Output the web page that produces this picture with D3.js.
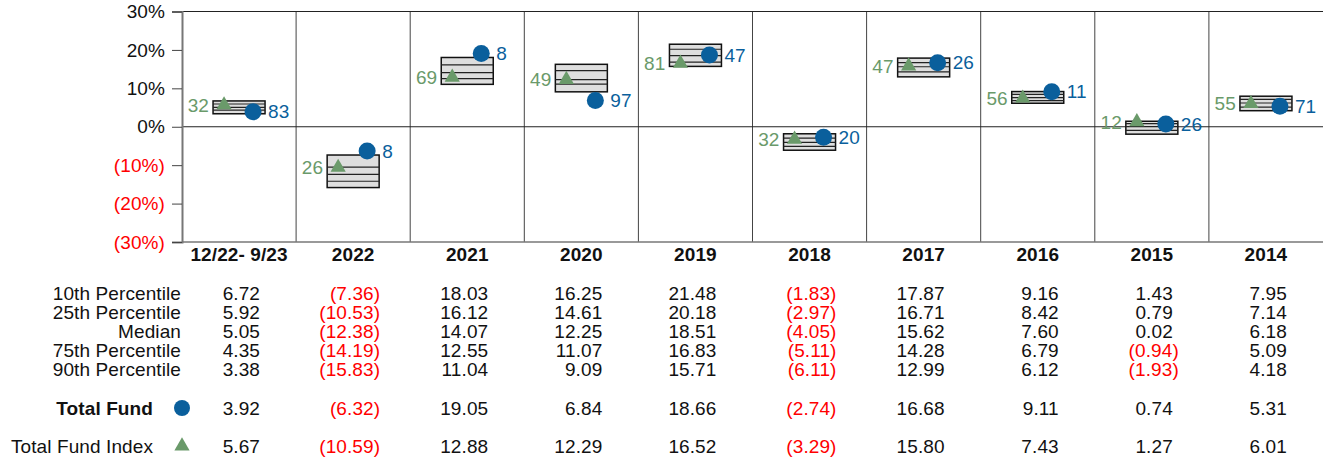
<!DOCTYPE html>
<html>
<head>
<meta charset="utf-8">
<script src="https://cdn.jsdelivr.net/npm/d3@7"></script>
<style>
body { margin: 0; background: #fff; }
text { font-family: "Liberation Sans", Arial, sans-serif; letter-spacing: 0.1px; }
</style>
</head>
<body>
<div id="chart"></div>
<script>
var periods = ["12/22- 9/23", "2022", "2021", "2020", "2019", "2018", "2017", "2016", "2015", "2014"];
var p10 = [6.72, -7.36, 18.03, 16.25, 21.48, -1.83, 17.87, 9.16, 1.43, 7.95];
var p25 = [5.92, -10.53, 16.12, 14.61, 20.18, -2.97, 16.71, 8.42, 0.79, 7.14];
var median = [5.05, -12.38, 14.07, 12.25, 18.51, -4.05, 15.62, 7.60, 0.02, 6.18];
var p75 = [4.35, -14.19, 12.55, 11.07, 16.83, -5.11, 14.28, 6.79, -0.94, 5.09];
var p90 = [3.38, -15.83, 11.04, 9.09, 15.71, -6.11, 12.99, 6.12, -1.93, 4.18];
var fund = [3.92, -6.32, 19.05, 6.84, 18.66, -2.74, 16.68, 9.11, 0.74, 5.31];
var fundRank = [83, 8, 8, 97, 47, 20, 26, 11, 26, 71];
var index = [5.67, -10.59, 12.88, 12.29, 16.52, -3.29, 15.80, 7.43, 1.27, 6.01];
var indexRank = [32, 26, 69, 49, 81, 32, 47, 56, 12, 55];
var yTicks = [30, 20, 10, 0, -10, -20, -30];
var rowLabels = ["10th Percentile", "25th Percentile", "Median", "75th Percentile", "90th Percentile"];

function drawChart() {
    var width = 1323, height = 460;
    var plotLeft = 182, plotRight = 1323, plotTop = 11.5, plotBottom = 242;
    var blue = "#0a5f9c", green = "#6a9a6a", red = "#ff0000";
    var fs = 19;

    var svg = d3.select("#chart").append("svg")
        .attr("width", width)
        .attr("height", height);

    var x = d3.scaleBand().domain(periods).range([plotLeft, plotRight]).padding(0);
    var y = d3.scaleLinear().domain([-30, 30]).range([plotBottom, plotTop]);
    var cx = function(p) { return x(p) + x.bandwidth() / 2; };

    function fmt(v) {
        return v < 0 ? "(" + d3.format(".2f")(-v) + ")" : d3.format(".2f")(v);
    }

    // column separators
    svg.selectAll(".sep")
        .data(periods.slice(1))
        .enter().append("line")
        .attr("x1", function(d) { return x(d); })
        .attr("x2", function(d) { return x(d); })
        .attr("y1", plotTop).attr("y2", plotBottom)
        .attr("stroke", "#444").attr("stroke-width", 1);

    // top, zero, bottom lines
    svg.append("line").attr("x1", plotLeft - 10).attr("x2", plotRight).attr("y1", plotTop).attr("y2", plotTop)
        .attr("stroke", "#222").attr("stroke-width", 1);
    svg.append("line").attr("x1", plotLeft).attr("x2", plotRight).attr("y1", y(0)).attr("y2", y(0))
        .attr("stroke", "#222").attr("stroke-width", 1);
    svg.append("line").attr("x1", plotLeft).attr("x2", plotRight).attr("y1", plotBottom).attr("y2", plotBottom)
        .attr("stroke", "#777").attr("stroke-width", 1.5);

    // y axis
    var yAxis = svg.append("g")
        .attr("transform", "translate(" + plotLeft + ",0)")
        .call(d3.axisLeft(y).tickValues(yTicks).tickSize(10).tickPadding(7)
            .tickFormat(function(d) { return d < 0 ? "(" + (-d) + "%)" : d + "%"; }));
    yAxis.select(".domain").attr("stroke", "#777").attr("stroke-width", 2);
    yAxis.selectAll(".tick line").attr("stroke", "#444");
    yAxis.selectAll(".tick text")
        .attr("font-size", fs)
        .attr("font-family", "Liberation Sans, Arial, sans-serif")
        .attr("fill", function(d) { return d < 0 ? red : "#111"; });

    // x labels
    svg.selectAll(".xl")
        .data(periods)
        .enter().append("text")
        .attr("x", cx).attr("y", 261)
        .attr("text-anchor", "middle")
        .attr("font-size", fs).attr("font-weight", "bold")
        .attr("fill", "#111")
        .text(function(d) { return d; });

    // boxes
    var boxW = 52;
    var cols = svg.selectAll(".col")
        .data(periods)
        .enter().append("g");

    cols.append("rect")
        .attr("x", function(d) { return cx(d) - boxW / 2; })
        .attr("y", function(d, i) { return y(p10[i]); })
        .attr("width", boxW)
        .attr("height", function(d, i) { return y(p90[i]) - y(p10[i]); })
        .attr("fill", "#dedede")
        .attr("stroke", "#111").attr("stroke-width", 1.5);

    [p25, median, p75].forEach(function(arr) {
        cols.append("line")
            .attr("x1", function(d) { return cx(d) - boxW / 2; })
            .attr("x2", function(d) { return cx(d) + boxW / 2; })
            .attr("y1", function(d, i) { return y(arr[i]); })
            .attr("y2", function(d, i) { return y(arr[i]); })
            .attr("stroke", "#222").attr("stroke-width", 1.2);
    });

    var tri = d3.symbol().type(d3.symbolTriangle).size(100);

    cols.append("path")
        .attr("d", tri)
        .attr("transform", function(d, i) { return "translate(" + (cx(d) - 15) + "," + y(index[i]) + ")"; })
        .attr("fill", green);

    cols.append("circle")
        .attr("cx", function(d) { return cx(d) + 14; })
        .attr("cy", function(d, i) { return y(fund[i]); })
        .attr("r", 8.5)
        .attr("fill", blue);

    cols.append("text")
        .attr("x", function(d) { return cx(d) - boxW / 2 - 4; })
        .attr("y", function(d, i) { return y(index[i]); })
        .attr("dy", "0.35em")
        .attr("text-anchor", "end")
        .attr("font-size", fs).attr("fill", green)
        .text(function(d, i) { return indexRank[i]; });

    cols.append("text")
        .attr("x", function(d) { return cx(d) + 29; })
        .attr("y", function(d, i) { return y(fund[i]); })
        .attr("dy", "0.35em")
        .attr("font-size", fs).attr("fill", blue)
        .text(function(d, i) { return fundRank[i]; });

    // table
    var rowY = [293, 312, 331, 350, 369];
    var series = [p10, p25, median, p75, p90];

    svg.selectAll(".rl")
        .data(rowLabels)
        .enter().append("text")
        .attr("x", 181).attr("y", function(d, i) { return rowY[i]; })
        .attr("dy", "0.35em").attr("text-anchor", "end")
        .attr("font-size", fs).attr("fill", "#111")
        .text(function(d) { return d; });

    function valueRow(arr, yy) {
        svg.append("g").selectAll("text")
            .data(periods)
            .enter().append("text")
            .attr("x", function(d, i) { return cx(d) + (arr[i] < 0 ? 27 : 21); })
            .attr("y", yy)
            .attr("dy", "0.35em").attr("text-anchor", "end")
            .attr("font-size", fs)
            .attr("fill", function(d, i) { return arr[i] < 0 ? red : "#111"; })
            .text(function(d, i) { return fmt(arr[i]); });
    }
    series.forEach(function(arr, k) { valueRow(arr, rowY[k]); });
    valueRow(fund, 408);
    valueRow(index, 446);

    svg.append("text").attr("x", 153).attr("y", 408).attr("dy", "0.35em")
        .attr("text-anchor", "end").attr("font-size", fs).attr("font-weight", "bold")
        .attr("fill", "#111").text("Total Fund");
    svg.append("circle").attr("cx", 182).attr("cy", 408).attr("r", 8).attr("fill", blue);

    svg.append("text").attr("x", 153).attr("y", 446).attr("dy", "0.35em")
        .attr("text-anchor", "end").attr("font-size", fs)
        .attr("fill", "#111").text("Total Fund Index");
    svg.append("path").attr("d", tri)
        .attr("transform", "translate(182,446)").attr("fill", green);
}

drawChart();
</script>
</body>
</html>
